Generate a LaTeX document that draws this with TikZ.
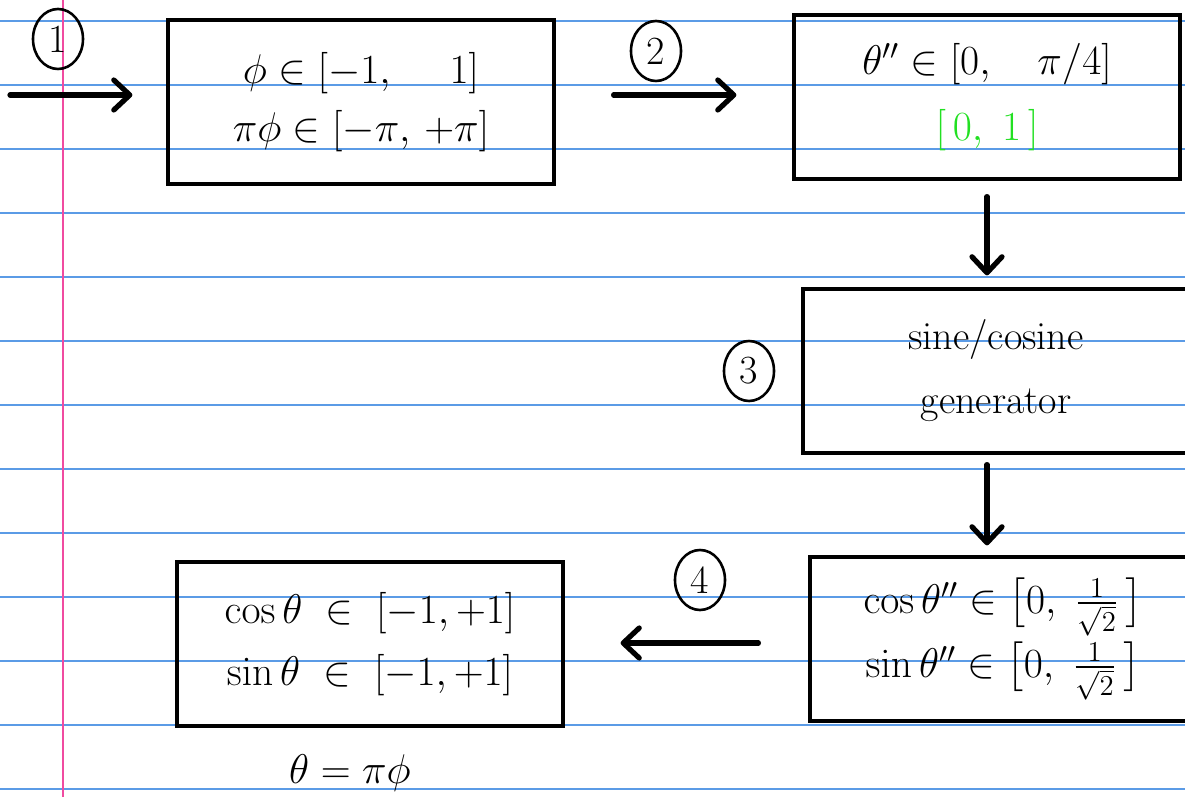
\documentclass[tikz,border=0pt]{standalone}
\usepackage{amsmath}
\usetikzlibrary{arrows.meta, positioning, calc, shapes.geometric}
\definecolor{ruleblue}{HTML}{5B9BE6}
\definecolor{marginpink}{HTML}{F04BA0}
\definecolor{markgreen}{HTML}{22E022}

\begin{document}
\begin{tikzpicture}[x=0.5pt, y=-0.5pt,
  box/.style={draw, line width=1.6pt, minimum width=193pt, minimum height=82pt, inner sep=0pt, align=center, font=\fontsize{20}{29}\selectfont},
  flow/.style={line width=2.6pt, line cap=round, -{Straight Barb[length=8pt, width=15pt, line cap=round, line join=round]}},
  stepnum/.style={draw, ellipse, line width=1.3pt, inner sep=0pt, minimum width=25pt, minimum height=30pt, font=\fontsize{20}{20}\selectfont}]
  \useasboundingbox (0,0) rectangle (1185,797);
  \clip (0,0) rectangle (1185,797);
  % ruled paper
  \foreach \y in {21,85,...,789}
    \draw[ruleblue, line width=0.8pt] (0,\y) -- (1185,\y);
  \draw[marginpink, line width=1pt] (63,0) -- (63,797);

  \node[box] (range) at (361,102) {$\phi\in[-1,\quad\ 1]$\\ $\pi\phi\in[-\pi,\,+\pi]$};
  \node[box] (reduced) at (987,97) {$\theta''\in[0,\quad\pi/4]$\hspace{8pt}\\[4pt] \textcolor{markgreen}{$[\,0,\ 1\,]$}};
  \node[box] (gen) at (996,371) {sine/cosine\\[3pt] generator};
  \node[box] (octant) at (1003,639) {$\cos\theta''\in\bigl[0,\ \tfrac{1}{\sqrt{2}}\,\bigr]$\\[3pt] $\sin\theta''\in\bigl[0,\ \tfrac{1}{\sqrt{2}}\,\bigr]$};
  \node[box] (full) at (370,644) {$\cos\theta\;\in\;[-1,+1]$\\[2pt] $\sin\theta\;\in\;[-1,+1]$};
  \node[font=\fontsize{20}{24}\selectfont] (relation) at (350,773) {$\theta=\pi\phi$};

  % step numbers
  \node[stepnum] (one) at (58,39) {1};
  \node[stepnum] (two) at (656,51) {2};
  \node[stepnum] (three) at (749,371) {3};
  \node[stepnum] (four) at (700,580) {4};

  % arrows
  \coordinate (start) at (10,95);
  \draw[flow, shorten >=17pt] (start) -- (start -| range.west);
  \draw[flow, shorten <=29pt, shorten >=28pt] (range.east |- start) -- (start -| reduced.west);
  \draw[flow, shorten <=8pt, shorten >=6pt] (reduced.south) -- (reduced.south |- gen.north);
  \draw[flow, shorten <=5pt, shorten >=5pt] (reduced.south |- gen.south) -- (reduced.south |- octant.north);
  \draw[flow, shorten <=25pt, shorten >=28pt] ($(octant.west)+(0,4)$) -- ($(full.east |- octant.west)+(0,4)$);
\end{tikzpicture}
\end{document}
